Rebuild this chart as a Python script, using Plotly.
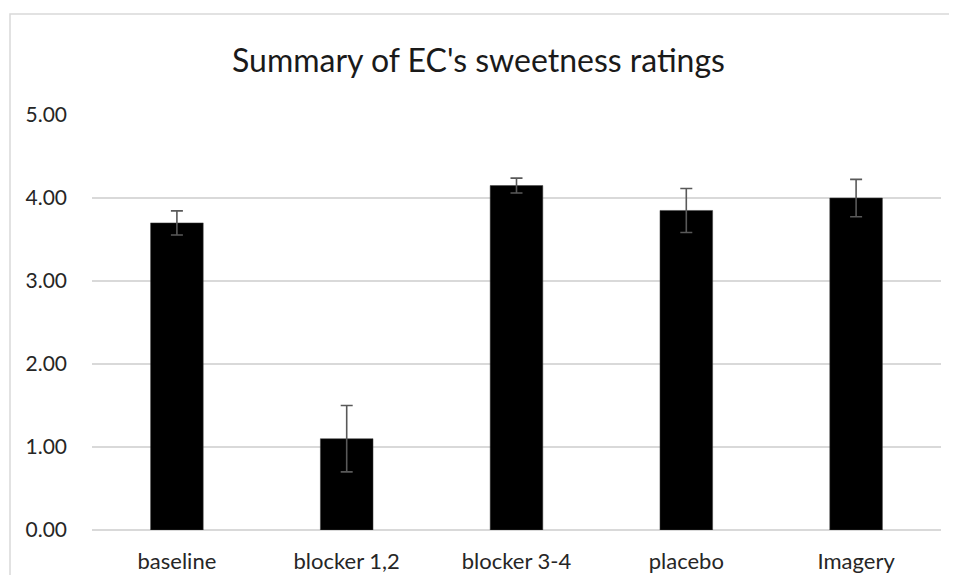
import plotly.graph_objects as go

categories = ["baseline", "blocker 1,2", "blocker 3-4", "placebo", "Imagery"]
means = [3.70, 1.10, 4.15, 3.85, 4.00]
errors = [0.145, 0.40, 0.09, 0.265, 0.225]
y_ticks = [0, 1, 2, 3, 4, 5]
y_tick_labels = ["0.00", "1.00", "2.00", "3.00", "4.00", "5.00"]
title_text = "Summary of EC's sweetness ratings"

# page has an 8px body margin; size the figure to fit the window
W, H = 941, 567
L, R, T, B = 84, 8, 107, 45
pw = W - L - R
ph = H - T - B

fig = go.Figure()
fig.add_trace(go.Bar(
    x=categories,
    y=means,
    marker=dict(color="black", line=dict(color="#404040", width=0.5)),
    error_y=dict(type="data", array=errors, visible=True,
                 color="#595959", thickness=1.6, width=6),
))

fig.update_layout(
    width=W, height=H,
    paper_bgcolor="white", plot_bgcolor="white",
    margin=dict(l=L, r=R, t=T, b=B),
    bargap=0.69,
    showlegend=False,
    font=dict(family="Lato, Open Sans, sans-serif", color="#262626"),
    title=dict(text=title_text, x=0.5, xanchor="center", xref="container",
               y=1 - 53 / H, yanchor="middle", yref="container",
               font=dict(size=32, color="#1a1a1a")),
    xaxis=dict(showgrid=False, showline=False, ticks="", automargin=False,
               tickfont=dict(size=22, color="#262626"), ticklabelstandoff=16),
    yaxis=dict(range=[0, 5], tickvals=y_ticks, ticktext=y_tick_labels,
               showgrid=True, gridcolor="#d9d9d9", gridwidth=1.5,
               zeroline=True, zerolinecolor="#d9d9d9", zerolinewidth=2,
               showline=False, ticks="", automargin=False,
               tickfont=dict(size=21, color="#262626"), ticklabelstandoff=24),
    shapes=[dict(type="rect", xref="paper", yref="paper",
                 x0=(2 - L) / pw, x1=(980 - L) / pw,
                 y0=-(B + 40) / ph, y1=(H - B - 6) / ph,
                 line=dict(color="#d9d9d9", width=1.5), fillcolor="rgba(0,0,0,0)",
                 layer="below")],
)

fig.write_html("out.html")
